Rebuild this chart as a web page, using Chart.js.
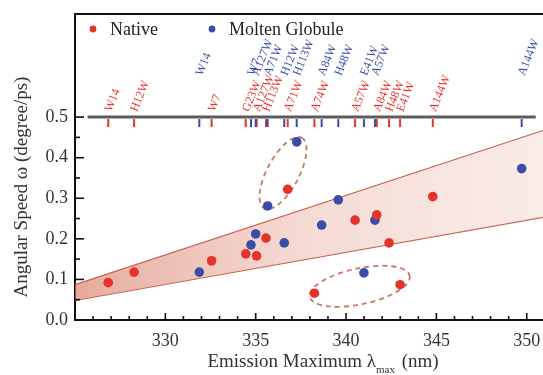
<!DOCTYPE html>
<html>
<head>
<meta charset="utf-8">
<script src="https://cdn.jsdelivr.net/npm/chart.js@4.4.1/dist/chart.umd.min.js"></script>
<style>
  html, body { margin: 0; padding: 0; background: #fff; }
  #wrap { width: 543px; height: 375px; }
</style>
</head>
<body>
<div id="wrap"><canvas id="chart"></canvas></div>
<script>
// native state
var nativeX = [326.84, 328.27, 332.56, 334.45, 335.05, 335.57, 336.77, 338.25, 340.5, 341.7, 342.38, 342.99, 344.8];
var nativeY = [0.092, 0.118, 0.146, 0.163, 0.158, 0.202, 0.322, 0.066, 0.246, 0.259, 0.19, 0.087, 0.304];
var nativeLabels = ["W14", "H12W", "W7", "G23W", "A127W", "H113W", "A71W", "A74W", "A57W", "A84W", "H48W", "E41W", "A144W"];

// molten globule state
var moltenX = [331.88, 334.74, 335.0, 335.66, 336.58, 337.27, 338.65, 339.57, 340.99, 341.6, 349.72];
var moltenY = [0.118, 0.185, 0.212, 0.281, 0.19, 0.439, 0.234, 0.296, 0.116, 0.246, 0.373];
var moltenLabels = ["W14", "W7", "A127W", "A71W", "H12W", "H113W", "A84W", "H48W", "E41W", "A57W", "A144W"];

// shaded wedge edges
var bandX = [325, 350.9];
var bandUpper = [0.087, 0.467];
var bandLower = [0.048, 0.253];

var xTicks = [330, 335, 340, 345, 350];
var yTicks = [0, 0.1, 0.2, 0.3, 0.4, 0.5];
var markerLineX = [325.7, 350.5];
var markerLineY = 0.5;

var RED = "#e5322b";
var BLUE = "#3a4ca8";
var SERIF = '"Liberation Serif", "Times New Roman", serif';

// dashed rings: centre in data units, radii in px, tilt in degrees
var rings = [
  { x: 336.51, y: 0.362, rx: 40, ry: 16, rot: -62 },
  { x: 340.76, y: 0.083, rx: 51, ry: 18, rot: -12 }
];

function pts(xs, ys) {
  return xs.map(function (x, i) { return { x: x, y: ys[i] }; });
}

var decor = {
  id: "decor",
  beforeDatasetsDraw: function (chart) {
    var ctx = chart.ctx, sx = chart.scales.x, sy = chart.scales.y;
    ctx.save();
    ctx.strokeStyle = "rgba(196,104,88,0.9)";
    ctx.lineWidth = 1.8;
    ctx.setLineDash([5, 4]);
    rings.forEach(function (r) {
      ctx.beginPath();
      ctx.ellipse(sx.getPixelForValue(r.x), sy.getPixelForValue(r.y), r.rx, r.ry, r.rot * Math.PI / 180, 0, Math.PI * 2);
      ctx.stroke();
    });
    ctx.restore();
  },
  afterDraw: function (chart) {
    var ctx = chart.ctx, sx = chart.scales.x, sy = chart.scales.y, a = chart.chartArea;
    ctx.save();

    // frame top + inward ticks
    ctx.strokeStyle = "#111";
    ctx.lineWidth = 2;
    ctx.beginPath();
    ctx.moveTo(a.left - 1, a.top);
    ctx.lineTo(a.right, a.top);
    ctx.stroke();
    ctx.lineWidth = 1.6;
    for (var v = 326; v <= 350; v++) {
      var px = sx.getPixelForValue(v);
      var len = v % 5 === 0 ? 7 : 4;
      ctx.beginPath();
      ctx.moveTo(px, a.bottom);
      ctx.lineTo(px, a.bottom - len);
      ctx.stroke();
    }
    for (var k = 1; k <= 10; k++) {
      var py = sy.getPixelForValue(k * 0.05);
      var l2 = k % 2 === 0 ? 9 : 5;
      ctx.beginPath();
      ctx.moveTo(a.left, py);
      ctx.lineTo(a.left + l2, py);
      ctx.stroke();
    }

    // horizontal marker line at 0.5
    var yLine = sy.getPixelForValue(markerLineY);
    ctx.strokeStyle = "#5c5c5c";
    ctx.lineWidth = 3;
    ctx.beginPath();
    ctx.moveTo(sx.getPixelForValue(markerLineX[0]), yLine);
    ctx.lineTo(sx.getPixelForValue(markerLineX[1]), yLine);
    ctx.stroke();

    function marks(xs, labels, color, labelY) {
      ctx.strokeStyle = color;
      ctx.fillStyle = color;
      ctx.lineWidth = 2;
      ctx.font = "12px " + SERIF;
      ctx.textAlign = "left";
      ctx.textBaseline = "middle";
      xs.forEach(function (x, i) {
        var px = sx.getPixelForValue(x);
        ctx.beginPath();
        ctx.moveTo(px, yLine + 2);
        ctx.lineTo(px, yLine + 10);
        ctx.stroke();
        ctx.save();
        ctx.translate(px, labelY);
        ctx.rotate(-68 * Math.PI / 180);
        ctx.fillText(labels[i], 0, 0);
        ctx.restore();
      });
    }
    marks(nativeX, nativeLabels, RED, yLine - 6);
    marks(moltenX, moltenLabels, BLUE, yLine - 42);

    // legend
    ctx.font = "18px " + SERIF;
    ctx.textBaseline = "middle";
    ctx.fillStyle = RED;
    ctx.beginPath(); ctx.arc(a.left + 18, a.top + 15, 3.4, 0, Math.PI * 2); ctx.fill();
    ctx.fillStyle = "#222";
    ctx.fillText("Native", a.left + 35, a.top + 16);
    ctx.fillStyle = BLUE;
    ctx.beginPath(); ctx.arc(a.left + 137, a.top + 15, 3.4, 0, Math.PI * 2); ctx.fill();
    ctx.fillStyle = "#222";
    ctx.fillText("Molten Globule", a.left + 154, a.top + 16);

    // axis titles
    ctx.fillStyle = "#333";
    var t1 = "Emission Maximum \u03bb", t2 = "max", t3 = " (nm)";
    ctx.font = "19px " + SERIF;
    var w1 = ctx.measureText(t1).width, w3 = ctx.measureText(t3).width;
    ctx.font = "11px " + SERIF;
    var w2 = ctx.measureText(t2).width;
    var cx = (a.left + a.right) / 2 + 14;
    var x0 = cx - (w1 + w2 + w3 + 2) / 2;
    var ty = 362;
    ctx.textAlign = "left";
    ctx.textBaseline = "middle";
    ctx.font = "19px " + SERIF;
    ctx.fillText(t1, x0, ty);
    ctx.font = "11px " + SERIF;
    ctx.fillText(t2, x0 + w1, ty + 8);
    ctx.font = "19px " + SERIF;
    ctx.fillText(t3, x0 + w1 + w2 + 2, ty);

    ctx.save();
    ctx.translate(22, (a.top + a.bottom) / 2 + 20);
    ctx.rotate(-Math.PI / 2);
    ctx.textAlign = "center";
    ctx.fillText("Angular Speed \u03c9 (degree/ps)", 0, 0);
    ctx.restore();

    ctx.restore();
  }
};

new Chart(document.getElementById("chart"), {
  type: "scatter",
  data: {
    datasets: [
      {
        label: "Native",
        data: pts(nativeX, nativeY),
        backgroundColor: RED,
        borderWidth: 0,
        pointRadius: 4.8,
      },
      {
        label: "Molten Globule",
        data: pts(moltenX, moltenY),
        backgroundColor: BLUE,
        borderWidth: 0,
        pointRadius: 4.8,
      },
      {
        type: "line",
        label: "upper",
        data: pts(bandX, bandUpper),
        borderColor: "#c4604c",
        borderWidth: 1.2,
        pointRadius: 0,
        fill: "+1",
        backgroundColor: function (c) {
          var ca = c.chart.chartArea;
          if (!ca) return "rgba(220,140,120,0.4)";
          var g = c.chart.ctx.createLinearGradient(ca.left, 0, ca.right, 0);
          g.addColorStop(0, "rgba(214,118,96,0.62)");
          g.addColorStop(0.5, "rgba(228,160,142,0.38)");
          g.addColorStop(1, "rgba(236,184,172,0.28)");
          return g;
        },
      },
      {
        type: "line",
        label: "lower",
        data: pts(bandX, bandLower),
        borderColor: "#c4604c",
        borderWidth: 1.2,
        pointRadius: 0,
        fill: false,
      },
    ],
  },
  options: {
    responsive: true,
    maintainAspectRatio: false,
    animation: false,
    layout: { autoPadding: false, padding: { top: 14, left: 0, right: 0, bottom: 0 } },
    plugins: { legend: { display: false }, tooltip: { enabled: false } },
    scales: {
      x: {
        type: "linear",
        min: 325,
        max: 350.9,
        afterBuildTicks: function (s) { s.ticks = xTicks.map(function (v) { return { value: v }; }); },
        afterFit: function (s) { s.height = 55; s.paddingLeft = 0; s.paddingRight = 0; },
        grid: { display: false, drawTicks: false },
        border: { color: "#111", width: 2 },
        ticks: {
          font: { family: SERIF, size: 18 },
          color: "#333",
          padding: 10,
          maxRotation: 0,
          autoSkip: false,
          callback: function (v) { return v.toFixed(0); },
        },
      },
      y: {
        min: 0,
        max: 0.754,
        afterBuildTicks: function (s) { s.ticks = yTicks.map(function (v) { return { value: v }; }); },
        afterFit: function (s) { s.width = 75; s.paddingTop = 0; s.paddingBottom = 0; },
        grid: { display: false, drawTicks: false },
        border: { color: "#111", width: 2 },
        ticks: {
          font: { family: SERIF, size: 18 },
          color: "#333",
          padding: 7,
          callback: function (v) { return v.toFixed(1); },
        },
      },
    },
  },
  plugins: [decor],
});
</script>
</body>
</html>
